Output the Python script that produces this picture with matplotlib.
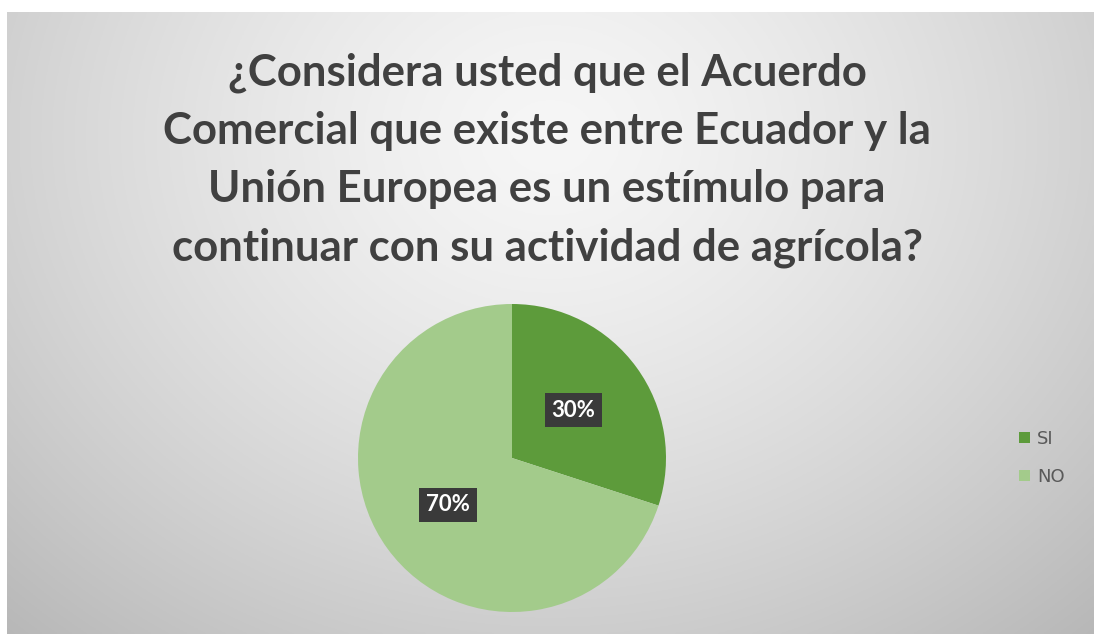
import numpy as np
import matplotlib.pyplot as plt

labels = ["SI", "NO"]
values = [30, 70]
colors = ["#5D9B3B", "#A3CB8B"]
title = "¿Considera usted que el Acuerdo\nComercial que existe entre Ecuador y la\nUnión Europea es un estímulo para\ncontinuar con su actividad de agrícola?"

W, H = 1094, 634
fig = plt.figure(figsize=(W / 100, H / 100), dpi=100)
fig.patch.set_facecolor("white")

# background gradient
bg = fig.add_axes([7 / W, 0, (W - 7) / W, (H - 12) / H])
bg.set_axis_off()
ny, nx = 300, 500
yy, xx = np.mgrid[0:1:ny * 1j, 0:1:nx * 1j]
d = np.sqrt(((xx - 0.5) / 0.75) ** 2 + ((yy - 0.2) / 1.1) ** 2)
v = 0.965 - 0.25 * np.clip(d, 0, 1.2) ** 1.4
img = np.dstack([v, v, v])
bg.imshow(img, extent=[0, 1, 0, 1], origin="upper", aspect="auto")
bg.set_xlim(0, 1)
bg.set_ylim(0, 1)

fig.text(547 / W, 1 - 160 / H, title, ha="center", va="center", fontsize=31.5,
         fontweight="bold", color="#404040", family="Lato", linespacing=1.55)

r = 154
cx, cy = 512, 458
ax = fig.add_axes([(cx - r) / W, 1 - (cy + r) / H, 2 * r / W, 2 * r / H])
wedges, _ = ax.pie(values, colors=colors, startangle=90, counterclock=False,
                   radius=1.0, wedgeprops=dict(linewidth=0))
ax.set_xlim(-1, 1)
ax.set_ylim(-1, 1)
ax.set_aspect("equal")

pos = [(0.40, 0.31), (-0.415, -0.305)]
for (x, y), val in zip(pos, values):
    ax.text(x, y, f"{val}%", ha="center", va="center", fontsize=16, fontweight="bold",
            color="white", family="Lato",
            bbox=dict(boxstyle="square,pad=0.3", facecolor="#3A3A3A", edgecolor="none"))

leg = fig.legend(wedges, labels, loc="center left", bbox_to_anchor=(1003 / W, 1 - 458 / H),
                 frameon=False, fontsize=13, handlelength=0.6, handleheight=0.6,
                 labelspacing=1.1, handletextpad=0.4, labelcolor="#595959")

fig.savefig("out.png", dpi=100)
